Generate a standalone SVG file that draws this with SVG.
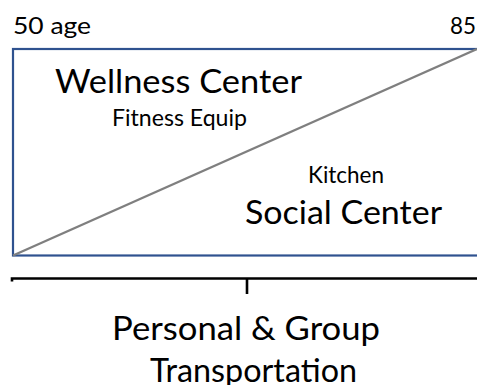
<svg xmlns="http://www.w3.org/2000/svg" width="477" height="385" viewBox="0 0 477 385">
<style>
text{font-family:Lato,"Open Sans","Liberation Sans",sans-serif;fill:#000}
.big{font-size:33.5px}
.sm{font-size:22.4px}
.lab{font-size:24px}
</style>
<rect width="477" height="385" fill="#fff"/>
<g id="frame">
<rect x="13" y="49" width="470" height="206.5" fill="none" stroke="#2F528F" stroke-width="2.2"/>
</g>
<g id="connectors">
<line x1="13" y1="255.5" x2="477" y2="49" stroke="#7F7F7F" stroke-width="2.4"/>
<path d="M12,281.5 V278.5 H477 M247,278.5 V294" fill="none" stroke="#000" stroke-width="2.6"/>
</g>
<g id="labels">
<text class="lab" x="13" y="34" textLength="78" lengthAdjust="spacingAndGlyphs">50 age</text>
<text class="lab" x="450" y="34" textLength="26" lengthAdjust="spacingAndGlyphs">85</text>
</g>
<g id="wellness">
<text class="big" x="55" y="93" textLength="247" lengthAdjust="spacingAndGlyphs">Wellness Center</text>
<text class="sm" x="112" y="126" textLength="135" lengthAdjust="spacingAndGlyphs">Fitness Equip</text>
</g>
<g id="social">
<text class="sm" x="308" y="183" textLength="76" lengthAdjust="spacingAndGlyphs">Kitchen</text>
<text class="big" x="245" y="224" textLength="197" lengthAdjust="spacingAndGlyphs">Social Center</text>
</g>
<g id="transport">
<text class="big" x="112" y="340" textLength="268" lengthAdjust="spacingAndGlyphs">Personal &amp; Group</text>
<text class="big" x="150" y="382" textLength="207" lengthAdjust="spacingAndGlyphs">Transportation</text>
</g>
</svg>
